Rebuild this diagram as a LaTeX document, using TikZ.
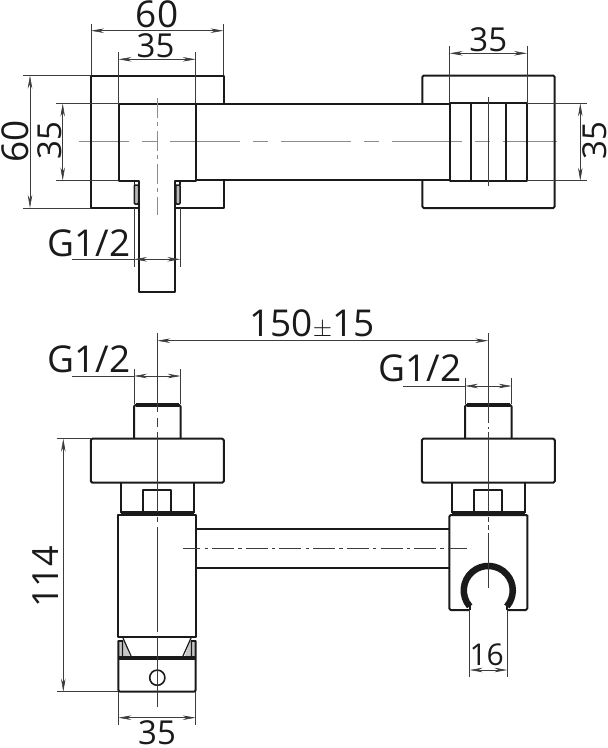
\documentclass[tikz,border=0pt]{standalone}
\usepackage{fontspec}
\setmainfont{Open Sans}
\usetikzlibrary{arrows.meta}
\definecolor{ink}{HTML}{1A1A1A}
\definecolor{mid}{HTML}{8C8C8C}
\tikzset{%
    pri/.style={line width=2pt, color=ink, line join=round},
    thk/.style={line width=3.4pt, color=ink},
    sec/.style={line width=0.6pt, color=ink!85},
    dar/.style={line width=0.6pt, color=ink!85, {Stealth[length=13pt,width=4.5pt]}-{Stealth[length=13pt,width=4.5pt]}},
    axi/.style={line width=0.9pt, color=mid, dash pattern=on 70pt off 13pt on 15pt off 13pt},
    sea/.style={line width=1.5pt, color=ink, fill=mid!60, rounded corners=1pt},
    lab/.style={anchor=base, inner sep=0pt, color=ink, font=\fontsize{33}{33}\selectfont},
    lag/.style={lab, font=\fontsize{37}{37}\selectfont},
}

\begin{document}
\begin{tikzpicture}[x=1pt,y=-1pt]
    \useasboundingbox (0,0) rectangle (608,748);
    % top view
    \draw [axi,dash phase=20pt] (79,141.7) -- (557,141.7);
    \draw [pri] (91,208) -- (91,75.5) -- (223.5,75.5) -- (223.5,104);
    \draw [pri] (223.5,180) -- (223.5,208) -- (175.3,208);
    \draw [pri] (91,208) -- (139,208);
    \draw [pri] (139,291.7) -- (139,180.5) -- (118.5,180.5) -- (118.5,103.5) -- (195.7,103.5) -- (195.7,180.5) -- (175.3,180.5) -- (175.3,291.7) -- cycle;
    \draw [pri] (195.7,104) -- (449.7,104) (195.7,179.7) -- (449.7,179.7);
    \draw [pri,rounded corners=1.5pt] (422.3,104) -- (422.3,75.5) -- (554.7,75.5) -- (554.7,208) -- (422.3,208) -- (422.3,180);
    \draw [pri] (449.7,103.3) rectangle (527,180.7) (470.7,103.3) -- (470.7,180.7) (506,103.3) -- (506,180.7);
    \draw [sea] (134.3,185) rectangle (138.5,204);
    \draw [sea] (175.8,185) rectangle (180,204);
    \draw [line width=1.2pt,color=ink] (134.3,185) -- (134.3,181) -- (139,181) (180,185) -- (180,181) -- (175.3,181);
    \draw [line width=0.9pt,color=mid,dash pattern=on 20pt off 4pt on 4pt off 5pt] (157.3,98) -- (157.3,215);
    \draw [sec] (488.3,97) -- (488.3,186);
    % top view dimensions
    \draw [sec] (91,24) -- (91,75) (223.5,24) -- (223.5,75) (118.5,52) -- (118.5,103) (195.7,52) -- (195.7,103);
    \draw [dar] (91,30.7) -- (223.5,30.7);
    \draw [dar] (118.5,59.3) -- (195.7,59.3);
    \node [lag] (w60) at (157,27.5) {60};
    \node [lab] (w35) at (155.5,57.3) {35};
    \draw [sec] (23,75.5) -- (91,75.5) (23,208) -- (91,208) (56,103.5) -- (118,103.5) (56,180.5) -- (118,180.5);
    \draw [dar] (30,75.5) -- (30,208);
    \draw [dar] (62.7,103.5) -- (62.7,180.5);
    \node [lag,rotate=90] (h60) at (28.3,141.7) {60};
    \node [lab,rotate=90] (h35) at (61.7,140.7) {35};
    \draw [sec] (134,208) -- (134,267) (180.3,208) -- (180.3,267) (72,259.3) -- (134,259.3);
    \draw [dar] (134,259.3) -- (180.3,259.3);
    \node [lag] (gtop) at (89,256) {G1/2};
    \draw [sec] (449.7,46) -- (449.7,103) (527,46) -- (527,103) (527,103.3) -- (587,103.3) (527,180.7) -- (587,180.7);
    \draw [dar] (449.7,53.3) -- (527,53.3);
    \draw [dar] (580.3,103.3) -- (580.3,180.7);
    \node [lab] (w35r) at (488.3,51.7) {35};
    \node [lab,rotate=90] (h35r) at (606,141) {35};
    % front view, both columns
    \foreach \cx in {157.3,488.3} {
        \draw [pri,rounded corners=1.5pt] (\cx-23.3,438.7) -- (\cx-23.3,405) -- (\cx+23.3,405) -- (\cx+23.3,438.7);
        \draw [thk] (\cx-21.5,405) -- (\cx+21.5,405);
        \draw [pri,rounded corners=1.5pt] (\cx-66.5,438.7) rectangle (\cx+66.5,482.7);
        \draw [pri] (\cx-36.3,482.7) -- (\cx-36.3,513) (\cx+36.3,482.7) -- (\cx+36.3,513);
        \draw [pri] (\cx-14,513) -- (\cx-14,490) -- (\cx+14,490) -- (\cx+14,513);
        \draw [thk] (\cx-36.3,513) -- (\cx+36.3,513);
    }
    \draw [pri] (118.3,515) rectangle (195.7,636.7);
    \draw [pri] (195.7,528.7) -- (449.3,528.7) (195.7,568) -- (449.3,568);
    \draw [pri,rounded corners=1.5pt] (527.3,515) -- (527.3,610) -- (507.3,610) (469.7,610) -- (449.3,610) -- (449.3,515) -- (527.3,515);
    \draw [line width=6.5pt,color=ink] (469.7,606.4) arc[start angle=139.3,end angle=400.7,radius=24.5];
    \draw [pri] (469.7,604) -- (469.7,610) (507.3,604) -- (507.3,610);
    % clamp at the foot
    \fill [mid!50] (118.3,640.7) -- (124,640.7) -- (130,657) -- (118.3,657) -- cycle;
    \fill [mid!50] (195.7,640.7) -- (190,640.7) -- (184.5,657) -- (195.7,657) -- cycle;
    \draw [line width=1.2pt,color=ink] (122.5,637) -- (131.5,657) (191.5,637) -- (182.5,657) (122.5,641) -- (122.5,657) (191.5,641) -- (191.5,657);
    \draw [pri] (118.3,640.7) -- (123,640.7) (195.7,640.7) -- (191,640.7);
    \draw [pri,rounded corners=2pt] (118.3,640.7) -- (118.3,691.7) -- (195.7,691.7) -- (195.7,640.7);
    \draw [thk] (118.3,658) -- (195.7,658);
    \draw [line width=1.6pt,color=ink] (157.3,677.7) circle [radius=7.6];
    % centre lines
    \draw [sec] (157.3,333.3) -- (157.3,412) (157.3,418) -- (157.3,427) (157.3,432) -- (157.3,512) (157.3,517) -- (157.3,522) (157.3,527) -- (157.3,632) (157.3,637) -- (157.3,707);
    \draw [sec] (488.3,333.3) -- (488.3,423) (488.3,427) -- (488.3,429) (488.3,432) -- (488.3,512) (488.3,517) -- (488.3,522) (488.3,525) -- (488.3,530) (488.3,533) -- (488.3,588);
    \draw [sec,dash pattern=on 22pt off 4.2pt on 3.3pt off 4.2pt,dash phase=4.4pt] (182.7,548) -- (466.5,548);
    % front view dimensions
    \draw [dar] (157.3,340.7) -- (488.3,340.7);
    \node [lag] (span) at (312,336) {150$\pm$15};
    \draw [sec] (134,369) -- (134,404) (180.6,369) -- (180.6,404) (72,376) -- (134,376);
    \draw [dar] (134,376) -- (180.6,376);
    \node [lag] (gleft) at (89,372.7) {G1/2};
    \draw [sec] (465,378) -- (465,404) (511.6,378) -- (511.6,404) (403.3,386) -- (465,386);
    \draw [dar] (465,386) -- (511.6,386);
    \node [lag] (gright) at (420,381.7) {G1/2};
    \draw [sec] (57,438.7) -- (91,438.7) (57,691.7) -- (118,691.7);
    \draw [dar] (63.3,438.7) -- (63.3,691.7);
    \node [lab,rotate=90,font=\fontsize{36}{36}\selectfont] (h114) at (58.3,577) {114};
    \draw [sec] (118.3,692) -- (118.3,725) (195.7,692) -- (195.7,725);
    \draw [dar] (118.3,717.7) -- (195.7,717.7);
    \node [lab] (w35b) at (157,744) {35};
    \draw [sec] (469.7,610) -- (469.7,676.7) (507.3,610) -- (507.3,676.7);
    \draw [dar] (469.7,670) -- (507.3,670);
    \node [lab,font=\fontsize{30}{30}\selectfont] (w16) at (486.7,665) {16};
\end{tikzpicture}
\end{document}
